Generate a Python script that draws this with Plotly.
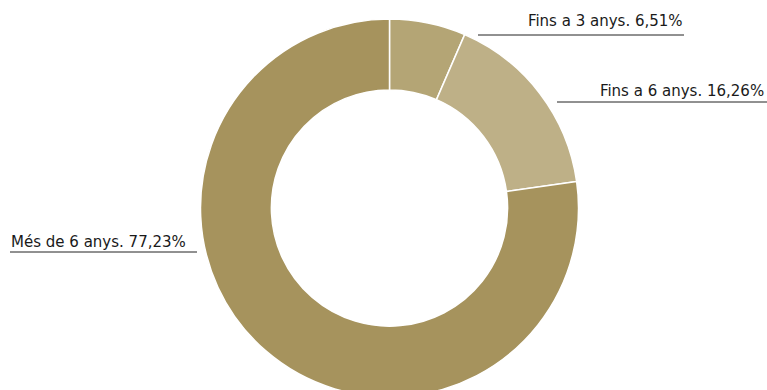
import plotly.graph_objects as go

labels = ["Fins a 3 anys", "Fins a 6 anys", "Més de 6 anys"]
values = [6.51, 16.26, 77.23]
colors = ["#b4a575", "#beb087", "#a6935d"]
label_texts = ["Fins a 3 anys. 6,51%", "Fins a 6 anys. 16,26%", "Més de 6 anys. 77,23%"]

W, H = 767, 397

def px(x):
    return x / W

def py(y):
    return 1 - y / H

fig = go.Figure(go.Pie(
    labels=labels, values=values, sort=False, direction="clockwise", rotation=0,
    hole=0.625, marker=dict(colors=colors, line=dict(color="white", width=1.5)),
    textinfo="none", hoverinfo="label+percent", showlegend=False,
    domain=dict(x=[200.5 / W, 578.5 / W], y=[0, 378 / H]),
))

font = dict(family="DejaVu Sans Condensed, Liberation Sans Narrow, sans-serif", size=16.7, color="#1a1a1a")

# label positions (pixels): (text x, anchor, text center y, line x0, line x1, line y)
pos = [
    (685, "right", 20, 478, 684, 35),
    (766, "right", 90, 557, 767, 102),
    (9, "left", 241, 10, 197, 252),
]
for t, (tx, anc, ty, lx0, lx1, ly) in zip(label_texts, pos):
    fig.add_annotation(x=px(tx), y=py(ty), xref="paper", yref="paper", text=t,
                       showarrow=False, xanchor=anc, yanchor="middle", font=font)
    fig.add_shape(type="line", xref="paper", yref="paper", x0=px(lx0), x1=px(lx1),
                  y0=py(ly), y1=py(ly), line=dict(color="#222222", width=1))

fig.update_layout(width=W, height=H, margin=dict(l=0, r=0, t=0, b=0),
                  paper_bgcolor="white", plot_bgcolor="white")
fig.write_html("out.html")
